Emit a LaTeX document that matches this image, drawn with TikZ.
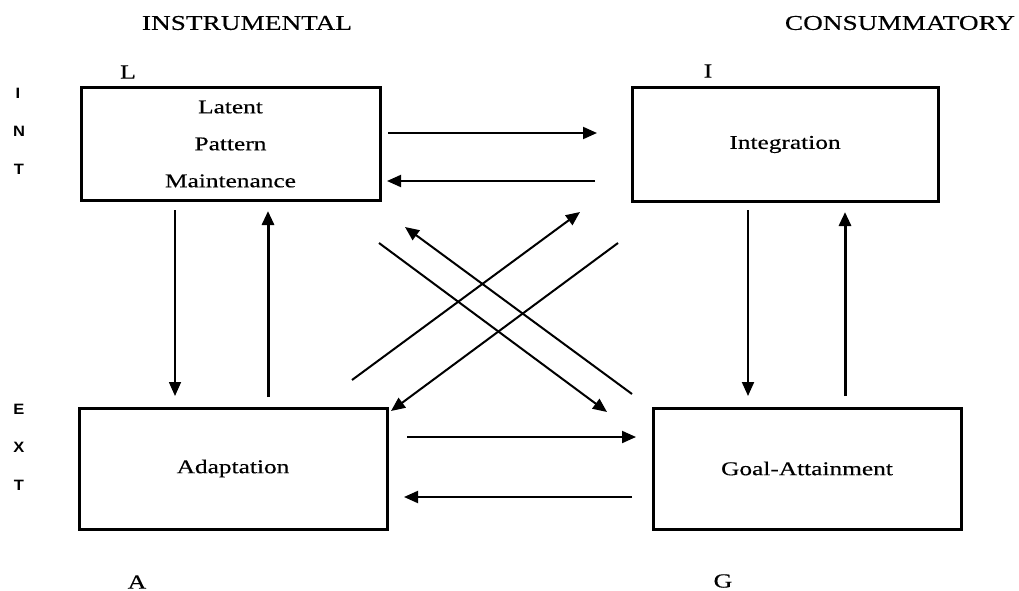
\documentclass[tikz,border=0pt]{standalone}
\usepackage{fontspec}
\setmainfont{Liberation Serif}[FakeStretch=1.3,FakeBold=0.4]
\newfontfamily\sidefont{Liberation Sans}[FakeStretch=1.1]
\usetikzlibrary{arrows.meta}
\begin{document}
\begin{tikzpicture}[x=1pt,y=-1pt,
  box/.style={draw, line width=3pt, inner sep=0pt, align=center,
    font=\fontsize{19.5}{37}\selectfont},
  head/.style={font=\fontsize{21}{24}\selectfont, inner sep=0pt},
  corner/.style={font=\fontsize{20}{22}\selectfont, inner sep=0pt},
  side/.style={font=\sidefont\bfseries\fontsize{15}{17}\selectfont, inner sep=0pt},
  arr/.style={-{Triangle[length=14pt,width=12pt]}, line width=2pt},
  arrthick/.style={-{Triangle[length=14pt,width=12pt]}, line width=3pt},
  arrthin/.style={-{Triangle[length=14pt,width=12pt]}, line width=1.6pt}]
\useasboundingbox (0,0) rectangle (1019,591);
\fill[white] (0,0) rectangle (1019,591);

% boxes
\node[box, minimum width=299pt, minimum height=112pt] (L) at (230.5,144) {Latent\\Pattern\\Maintenance};
\node[box, minimum width=306pt, minimum height=113pt] (I) at (785,144.5) {Integration};
\node[box, minimum width=308pt, minimum height=121pt] (A) at (233,468.5) {Adaptation};
\node[box, minimum width=308pt, minimum height=121pt] (G) at (807,468.5) {Goal-Attainment};

% headings and letters
\node[head] (hinst) at (247,23) {INSTRUMENTAL};
\node[head] (hcons) at (900,23) {CONSUMMATORY};
\node[corner] (cL) at (128,72) {L};
\node[corner] (cI) at (708,71) {I};
\node[corner] (cA) at (137,582) {A};
\node[corner] (cG) at (723,581) {G};

\node[side] (s1) at (18,93) {I};
\node[side] (s2) at (19,131) {N};
\node[side] (s3) at (19,169) {T};
\node[side] (s4) at (19,409) {E};
\node[side] (s5) at (19,447) {X};
\node[side] (s6) at (19,485) {T};

% arrow end points
\coordinate (LIa) at (388,133);  \coordinate (LIb) at (597,133);
\coordinate (ILa) at (595,181);  \coordinate (ILb) at (387,181);
\coordinate (LAa) at (175,210);  \coordinate (LAb) at (175,396);
\coordinate (ALa) at (268,397);  \coordinate (ALb) at (268,211);
\coordinate (IGa) at (748,210);  \coordinate (IGb) at (748,396);
\coordinate (GIa) at (845,396);  \coordinate (GIb) at (845,212);
\coordinate (AGa) at (407,437);  \coordinate (AGb) at (636,437);
\coordinate (GAa) at (632,497);  \coordinate (GAb) at (404,497);
\coordinate (d1a) at (352,380);  \coordinate (d1b) at (580,212);
\coordinate (d2a) at (618,243);  \coordinate (d2b) at (391,411);
\coordinate (d3a) at (379,243);  \coordinate (d3b) at (607,412);
\coordinate (d4a) at (632,394);  \coordinate (d4b) at (405,227);

\draw[arr] (LIa) -- (LIb);
\draw[arr] (ILa) -- (ILb);
\draw[arrthin] (LAa) -- (LAb);
\draw[arrthick] (ALa) -- (ALb);
\draw[arr] (IGa) -- (IGb);
\draw[arrthick] (GIa) -- (GIb);
\draw[arr] (AGa) -- (AGb);
\draw[arr] (GAa) -- (GAb);
\draw[arr] (d1a) -- (d1b);
\draw[arr] (d2a) -- (d2b);
\draw[arr] (d3a) -- (d3b);
\draw[arr] (d4a) -- (d4b);
\end{tikzpicture}
\end{document}
